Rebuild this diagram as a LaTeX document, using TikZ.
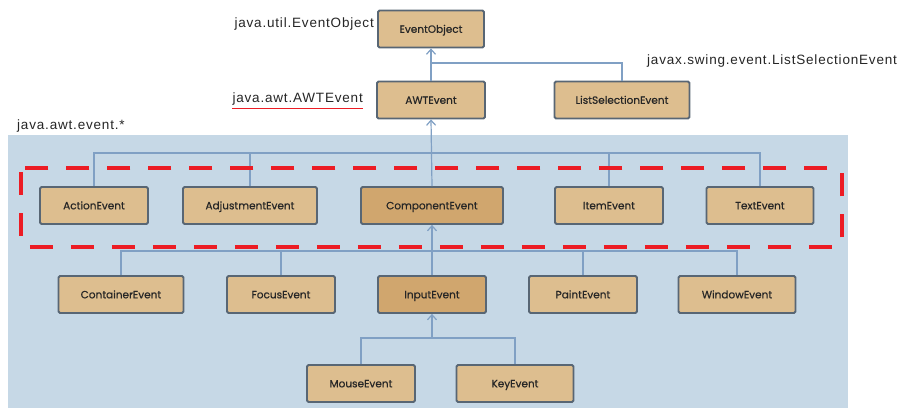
\documentclass[tikz,border=0pt]{standalone}
\usepackage{fontspec}
\setmainfont{Liberation Sans}
\newfontfamily\lblfont[LetterSpace=6]{Liberation Sans}
\newfontfamily\boxfont[FakeBold=0.6]{Poppins}
\usetikzlibrary{arrows.meta}
\definecolor{bgblue}{RGB}{198,216,230}
\definecolor{tan}{RGB}{221,190,143}
\definecolor{darktan}{RGB}{208,166,110}
\definecolor{bord}{RGB}{88,102,116}
\definecolor{linkc}{RGB}{128,160,196}
\definecolor{redd}{RGB}{236,28,36}
\tikzset{
  cls/.style={draw=bord, line width=1.8pt, fill=tan, rounded corners=1.5pt,
    minimum height=37pt, inner sep=0pt, text height=7.6pt, text depth=0pt,
    font=\boxfont\fontsize{10.5}{12}\selectfont, text=black!85},
  dcls/.style={cls, fill=darktan},
  lbl/.style={font=\lblfont\fontsize{13.5}{15}\selectfont, text=black!85, inner sep=0pt},
  link/.style={draw=linkc, line width=1.2pt},
  arr/.style={link, -{Straight Barb[length=5pt,width=9pt,line width=1.2pt]}},
}
\begin{document}
\begin{tikzpicture}[x=1pt,y=-1pt]
\useasboundingbox (0,0) rectangle (914,408);
\fill[white] (0,0) rectangle (914,408);
\fill[bgblue] (8,135) rectangle (848,408);

% nodes
\node[cls, minimum width=106pt] (eo) at (431,29) {EventObject};
\node[cls, minimum width=108pt] (awt) at (431,100) {AWTEvent};
\node[cls, minimum width=135pt] (lse) at (622,100) {ListSelectionEvent};

\node[cls, minimum width=108pt] (action) at (94,205.5) {ActionEvent};
\node[cls, minimum width=134pt] (adj) at (250,205.5) {AdjustmentEvent};
\node[dcls, minimum width=142pt] (comp) at (432,205.5) {ComponentEvent};
\node[cls, minimum width=108pt] (item) at (609,205.5) {ItemEvent};
\node[cls, minimum width=107pt] (text) at (760,205.5) {TextEvent};

\node[cls, minimum width=125pt] (cont) at (121,294.5) {ContainerEvent};
\node[cls, minimum width=108pt] (focus) at (281,294.5) {FocusEvent};
\node[dcls, minimum width=108pt] (input) at (432,294.5) {InputEvent};
\node[cls, minimum width=108pt] (paint) at (583,294.5) {PaintEvent};
\node[cls, minimum width=117pt] (window) at (737,294.5) {WindowEvent};

\node[cls, minimum width=108pt] (mouse) at (361,383.5) {MouseEvent};
\node[cls, minimum width=117pt] (key) at (515,383.5) {KeyEvent};

% labels
\node[lbl, anchor=east] (l1) at (374,24) {java.util.EventObject};
\node[lbl, anchor=east] (l2) at (363,99) {java.awt.AWTEvent};
\draw[redd, line width=0.9pt] ([yshift=-3pt]l2.south west) -- ([yshift=-3pt]l2.south east);
\node[lbl, anchor=west] (l3) at (647,61) {javax.swing.event.ListSelectionEvent};
\node[lbl, anchor=west] (l4) at (17,126) {java.awt.event.*};

% bus coordinates
\coordinate (j0) at (431,63);
\coordinate (b1) at (0,153);
\coordinate (b2) at (0,251);
\coordinate (b3) at (0,338);

% connectors
\draw[arr] (awt.north) -- (eo.south);
\draw[link] (lse.north) |- (j0);

\draw[link] (action.north) -- (action.north |- b1) -| (text.north);
\draw[link] (adj.north) -- (adj.north |- b1);
\draw[link] (item.north) -- (item.north |- b1);
\draw[arr] (comp.north) -- (awt.south);

\draw[link] (cont.north) -- (cont.north |- b2) -| (window.north);
\draw[link] (focus.north) -- (focus.north |- b2);
\draw[link] (paint.north) -- (paint.north |- b2);
\draw[arr] (input.north) -- (comp.south);

\draw[link] (mouse.north) -- (mouse.north |- b3) -| (key.north);
\draw[arr] (input.south |- b3) -- (input.south);

% red dashed highlight
\draw[redd, line width=4pt, rounded corners=4pt, dash pattern=on 23pt off 18pt]
  (21,168) rectangle (842,247);
\end{tikzpicture}
\end{document}
